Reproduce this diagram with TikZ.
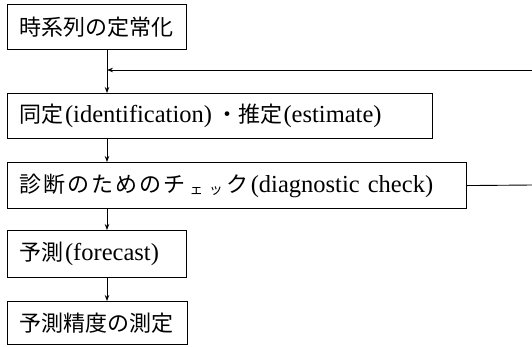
\documentclass[tikz,border=0pt]{standalone}
\usepackage{fontspec}
\setmainfont{Liberation Serif}
\newfontfamily\cjk{Noto Sans CJK JP}
\usetikzlibrary{arrows.meta}
\newcommand{\jp}[1]{{\cjk\fontsize{22}{24}\selectfont #1}}
\newcommand{\smallkana}[1]{\raisebox{-0.1em}{\scalebox{0.62}{\jp{#1}}}}
\begin{document}
\begin{tikzpicture}[x=1pt,y=-1pt,
  boxstyle/.style={draw,line width=1.1pt,anchor=north west,inner xsep=12pt,inner ysep=0pt,align=left,font=\fontsize{24.5}{26}\selectfont},
  conn/.style={line width=0.9pt},
  arr/.style={conn,-{Stealth[length=6pt,width=4.5pt]}}]
\useasboundingbox (0,0) rectangle (532,346);
\node[boxstyle,text width=155pt,minimum height=45pt] (b1) at (7,4) {\jp{時系列の定常化}};
\node[boxstyle,text width=401pt,minimum height=45pt] (b2) at (7,93) {\jp{同定}\hspace{1.5pt}(identification)\,\jp{・推定}\hspace{1.5pt}(estimate)};
\node[boxstyle,text width=435pt,minimum height=46pt] (b3) at (7,162) {\jp{診\hspace{2pt}断\hspace{2pt}の\hspace{2pt}た\hspace{2pt}め\hspace{2pt}の\hspace{2pt}チ}\hspace{4pt}\smallkana{ェ}\hspace{6pt}\smallkana{ッ}\hspace{4pt}\jp{ク}\hspace{2pt}(diagnostic check)};
\node[boxstyle,text width=155pt,minimum height=47pt] (b4) at (7,230) {\jp{予測}\hspace{1.5pt}(forecast)};
\node[boxstyle,text width=156pt,minimum height=43pt] (b5) at (7,301) {\jp{予測精度の測定}};
\coordinate (j) at (107,70);
\coordinate (r1) at (532,70);
\coordinate (r2) at (532,185);
\draw[arr] (b1.south -| j) -- (b2.north -| j);
\draw[arr] (r1) -- (j);
\draw[arr] (b2.south -| j) -- (b3.north -| j);
\draw[arr] (b3.south -| j) -- (b4.north -| j);
\draw[arr] (b4.south -| j) -- (b5.north -| j);
\draw[conn] (b3.east) -- (r2);
\end{tikzpicture}
\end{document}
